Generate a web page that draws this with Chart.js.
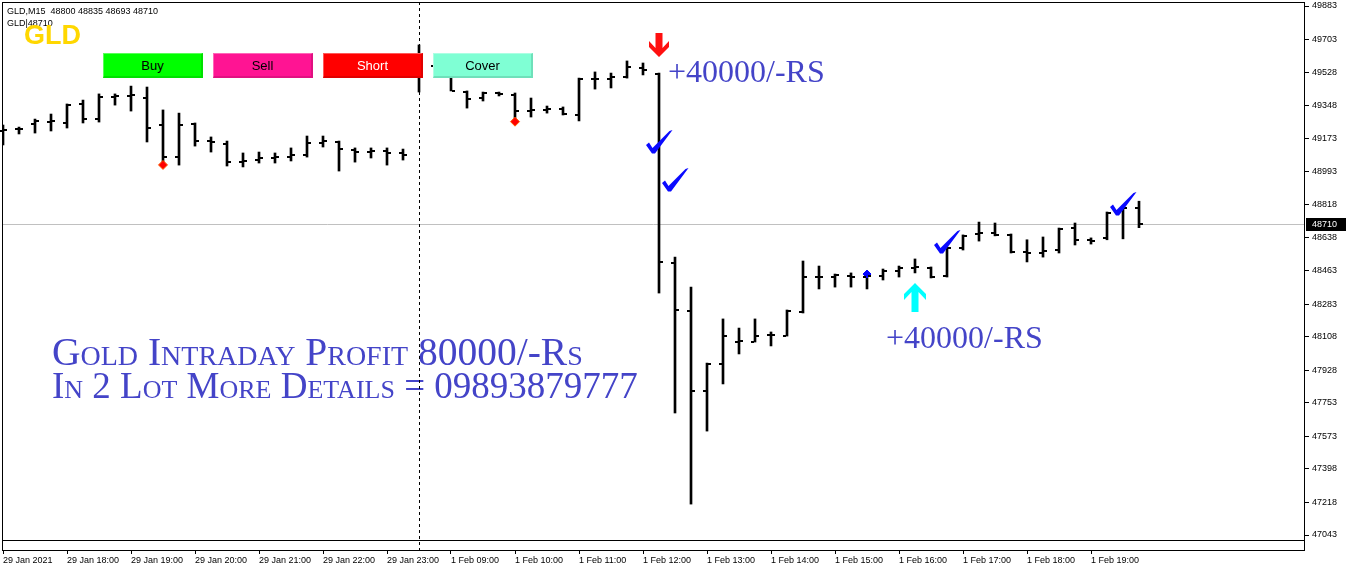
<!DOCTYPE html>
<html>
<head>
<meta charset="utf-8">
<script src="https://cdn.jsdelivr.net/npm/chart.js@4.4.1/dist/chart.umd.min.js"></script>
<style>
  html, body { margin: 0; padding: 0; background: #fff; }
  #wrap { position: relative; width: 1346px; height: 569px; overflow: hidden; }
  canvas { display: block; }
  .btn {
    position: absolute; top: 53px; width: 100px; height: 25px; box-sizing: border-box;
    font: 13px "Liberation Sans", Arial, sans-serif; text-align: center; line-height: 24px;
    border-top: 1px solid rgba(255,255,255,.35); border-left: 1px solid rgba(255,255,255,.35);
    border-right: 2px solid rgba(0,0,0,.12); border-bottom: 2px solid rgba(0,0,0,.12);
  }
</style>
</head>
<body>
<div id="wrap">
  <canvas id="chart" width="1346" height="569"></canvas>
  <div class="btn" style="left:103px;background:#00ff00;color:#000">Buy</div>
  <div class="btn" style="left:213px;background:#ff1493;color:#000">Sell</div>
  <div class="btn" style="left:323px;background:#ff0000;color:#fff">Short</div>
  <div class="btn" style="left:433px;background:#7fffd4;color:#000">Cover</div>
</div>
<script>
// GLD M15 bars, 29 Jan 17:00 -> 1 Feb 19:45
const opens  = [49210,49222,49249,49262,49255,49357,49276,49394,49398,49389,49244,49072,49249,49158,49142,49045,49056,49067,49072,49083,49147,49153,49110,49099,49104,49094,
                49582,49561,49518,49421,49389,49416,49405,49319,49325,49330,49298,49491,49491,49502,49550,49518,48503,48245,47816,47961,48079,48079,48117,48111,48240,48428,
                48428,48433,48428,48433,48460,48476,48476,48433,48584,48659,48664,48654,48562,48557,48573,48691,48628,48638,48793,48800];
const highs  = [49244,49233,49276,49303,49357,49378,49411,49411,49453,49448,49325,49308,49255,49180,49158,49094,49099,49094,49121,49185,49185,49158,49121,49121,49121,49115,
                49674,49593,49529,49427,49421,49421,49416,49389,49346,49341,49496,49529,49523,49588,49577,49523,48535,48374,47966,48203,48154,48203,48133,48251,48514,48487,
                48444,48450,48455,48471,48487,48525,48482,48589,48654,48723,48718,48659,48628,48643,48691,48718,48638,48777,48810,48835];
const lows   = [49137,49196,49201,49212,49228,49255,49260,49351,49319,49153,49035,49029,49131,49099,49024,49019,49040,49040,49051,49072,49126,48997,49045,49067,49029,49056,
                49421,49513,49427,49335,49373,49400,49271,49287,49308,49298,49266,49437,49443,49496,49513,48342,47698,47209,47601,47854,48015,48079,48058,48111,48235,48364,
                48374,48374,48364,48412,48428,48450,48423,48428,48573,48621,48649,48557,48509,48535,48557,48600,48605,48628,48633,48693];
const closes = [49217,49223,49266,49264,49351,49276,49394,49400,49403,49228,49072,49244,49158,49153,49045,49051,49067,49070,49083,49147,49158,49115,49099,49104,49094,49083,
                49555,49539,49427,49384,49416,49411,49319,49325,49330,49303,49491,49491,49502,49555,49539,48509,48251,47816,47961,48111,48082,48111,48117,48245,48428,48428,
                48439,48428,48433,48460,48476,48482,48428,48584,48649,48664,48654,48562,48557,48568,48686,48628,48621,48772,48798,48710];

const xTickIdx  = [0, 4, 8, 12, 16, 20, 24, 28, 32, 36, 40, 44, 48, 52, 56, 60, 64, 68];
const xTickText = ['29 Jan 2021','29 Jan 18:00','29 Jan 19:00','29 Jan 20:00','29 Jan 21:00','29 Jan 22:00','29 Jan 23:00',
                   '1 Feb 09:00','1 Feb 10:00','1 Feb 11:00','1 Feb 12:00','1 Feb 13:00','1 Feb 14:00','1 Feb 15:00',
                   '1 Feb 16:00','1 Feb 17:00','1 Feb 18:00','1 Feb 19:00'];
const yTickValues = [49883,49703,49528,49348,49173,48993,48818,48638,48463,48283,48108,47928,47753,47573,47398,47218,47043];
const daySeparatorIdx = 26;

// signal markers (bar index, price)
const redDotIdx   = [10, 32];
const redDotPrice = [49030, 49262];
const blueDotIdx   = [54];
const blueDotPrice = [48444];
const sellArrowIdx   = [41];
const sellArrowPrice = [49609];
const buyArrowIdx   = [57];
const buyArrowPrice = [48396];
const checkIdx   = [40.625, 41.625, 58.625, 69.625];
const checkPrice = [49094, 48890, 48557, 48761];
const profitIdx   = [41.56, 55.19];
const profitPrice = [49475, 48047];
const profitText  = '+40000/-RS';
const noteIdx   = 3.06;
const notePrice = [47956, 47778];
const noteLines = ['Gold Intraday Profit 80000/-Rs', 'In 2 Lot More Details = 09893879777'];
const noteSizes = [39.5, 37];

const FONT = '"Liberation Sans", Arial, sans-serif';
const NOTE_BLUE = '#4444c8';
const TICK = 3;

function arrow(ctx, cx, ty, dir, w, h, color) {
  // dir = 1 pointing down (body above tip), -1 pointing up
  const pts = [[0,0],[w/2,-w/2],[w/2,-w/2-6],[3.5,-9],[3.5,-h],[-3.5,-h],[-3.5,-9],[-w/2,-w/2-6],[-w/2,-w/2]];
  ctx.fillStyle = color;
  ctx.beginPath();
  pts.forEach(([dx, dy], k) => {
    const px = cx + dx, py = ty + dy * dir;
    k ? ctx.lineTo(px, py) : ctx.moveTo(px, py);
  });
  ctx.closePath();
  ctx.fill();
}

function check(ctx, vx, vy) {
  const pts = [[-7,-8],[-4,-10.5],[-0.5,-5],[16.5,-22],[19.5,-23],[2,0.5],[-1,0.5]];
  ctx.fillStyle = '#0a0aff';
  ctx.beginPath();
  pts.forEach(([dx, dy], k) => k ? ctx.lineTo(vx + dx, vy + dy) : ctx.moveTo(vx + dx, vy + dy));
  ctx.closePath();
  ctx.fill();
}

function noPadding(s) {
  s.paddingLeft = 0; s.paddingRight = 0; s.paddingTop = 0; s.paddingBottom = 0;
}

const mtOverlay = {
  id: 'mtOverlay',
  beforeDatasetsDraw(chart) {
    const { ctx, chartArea: a, scales: { y } } = chart;
    const py = Math.round(y.getPixelForValue(closes[closes.length - 1])) + 0.5;
    ctx.save();
    ctx.strokeStyle = '#c0c0c0';
    ctx.lineWidth = 1;
    ctx.beginPath(); ctx.moveTo(a.left, py); ctx.lineTo(a.right, py); ctx.stroke();
    ctx.restore();
  },
  afterDatasetsDraw(chart) {
    const { ctx, scales: { x, y } } = chart;
    ctx.save();
    // open / close ticks
    ctx.fillStyle = '#000';
    for (let i = 0; i < opens.length; i++) {
      const px = Math.round(x.getPixelForValue(i));
      const yo = Math.round(y.getPixelForValue(opens[i]));
      const yc = Math.round(y.getPixelForValue(closes[i]));
      ctx.fillRect(px - 1 - TICK, yo - 1, TICK, 2);
      ctx.fillRect(px + 1, yc - 1, TICK, 2);
    }
    sellArrowIdx.forEach((i, k) => arrow(ctx, x.getPixelForValue(i), y.getPixelForValue(sellArrowPrice[k]), 1, 20, 24, '#ff1010'));
    buyArrowIdx.forEach((i, k) => arrow(ctx, x.getPixelForValue(i), y.getPixelForValue(buyArrowPrice[k]), -1, 22, 29, '#00ffff'));
    checkIdx.forEach((i, k) => check(ctx, x.getPixelForValue(i), y.getPixelForValue(checkPrice[k])));

    ctx.fillStyle = NOTE_BLUE;
    ctx.textBaseline = 'alphabetic';
    ctx.font = '32px "Liberation Serif", "Times New Roman", serif';
    profitIdx.forEach((i, k) => ctx.fillText(profitText, x.getPixelForValue(i), y.getPixelForValue(profitPrice[k])));
    noteLines.forEach((t, k) => {
      ctx.font = 'small-caps ' + noteSizes[k] + 'px "Liberation Serif", "Times New Roman", serif';
      ctx.fillText(t, x.getPixelForValue(noteIdx), y.getPixelForValue(notePrice[k]));
    });
    ctx.restore();
  },
  afterDraw(chart) {
    const { ctx, chartArea: a, scales: { x, y } } = chart;
    ctx.save();
    // frame + empty sub-window strip
    ctx.strokeStyle = '#000';
    ctx.lineWidth = 1;
    ctx.strokeRect(a.left + 0.5, a.top + 0.5, a.right - a.left - 1, a.bottom - a.top);
    ctx.fillStyle = '#fff';
    ctx.fillRect(a.left, a.bottom + 1, a.right - a.left, 9);
    ctx.strokeRect(a.left + 0.5, a.bottom + 0.5, a.right - a.left - 1, 10);
    // day separator
    const sx = Math.round(x.getPixelForValue(daySeparatorIdx)) + 0.5;
    ctx.setLineDash([3, 3]);
    ctx.beginPath(); ctx.moveTo(sx, a.top); ctx.lineTo(sx, a.bottom + 10); ctx.stroke();
    ctx.setLineDash([]);
    // last price label
    const lp = closes[closes.length - 1];
    const py = Math.round(y.getPixelForValue(lp));
    ctx.fillStyle = '#000';
    ctx.fillRect(a.right + 1, py - 6, 41, 13);
    ctx.fillStyle = '#fff';
    ctx.font = '9px ' + FONT;
    ctx.textBaseline = 'middle';
    ctx.fillText(String(lp), a.right + 7, py + 1);
    // header
    ctx.fillStyle = '#000';
    ctx.textBaseline = 'alphabetic';
    const n = closes.length - 1;
    ctx.fillText('GLD,M15  ' + [opens[n], highs[n], lows[n], closes[n]].join(' '), 7, 14);
    ctx.fillText('GLD|' + closes[n], 7, 26);
    ctx.fillStyle = '#ffd700';
    ctx.font = 'bold 27px ' + FONT;
    ctx.fillText('GLD', 24, 44);
    ctx.restore();
  }
};

const ctx = document.getElementById('chart');
new Chart(ctx, {
  type: 'bar',
  data: {
    datasets: [
      {
        type: 'bar',
        data: opens.map((_, i) => ({ x: i, y: [lows[i], highs[i]] })),
        backgroundColor: '#000',
        borderWidth: 0,
        barThickness: 2,
        borderSkipped: false,
        order: 2
      },
      {
        type: 'scatter',
        data: redDotIdx.map((i, k) => ({ x: i, y: redDotPrice[k] })),
        pointStyle: 'rectRot',
        pointRadius: 4.5,
        backgroundColor: '#ff0000',
        borderColor: '#ff5a00',
        borderWidth: 1,
        order: 1
      },
      {
        type: 'scatter',
        data: blueDotIdx.map((i, k) => ({ x: i, y: blueDotPrice[k] })),
        pointStyle: 'rectRot',
        pointRadius: 4,
        backgroundColor: '#0000ff',
        borderColor: '#0000ff',
        borderWidth: 1,
        order: 1
      }
    ]
  },
  options: {
    responsive: false,
    animation: false,
    events: [],
    layout: { autoPadding: false, padding: { left: 2, top: 2, right: 0, bottom: 0 } },
    plugins: { legend: { display: false }, tooltip: { enabled: false } },
    scales: {
      x: {
        type: 'linear',
        position: 'bottom',
        min: -0.0625,
        max: 81.375,
        offset: false,
        afterFit: s => { s.height = 29; noPadding(s); },
        afterBuildTicks: s => { s.ticks = xTickIdx.map(v => ({ value: v })); },
        grid: { drawOnChartArea: false, offset: false, tickLength: 14, tickColor: '#000', tickWidth: 1 },
        border: { display: false },
        ticks: {
          align: 'start',
          autoSkip: false,
          maxRotation: 0,
          padding: 1,
          color: '#000',
          font: { family: FONT, size: 9 },
          callback: v => xTickText[xTickIdx.indexOf(v)]
        }
      },
      y: {
        type: 'linear',
        position: 'right',
        min: 47016.2,
        max: 49904.5,
        afterFit: s => { s.width = 41; noPadding(s); },
        afterBuildTicks: s => { s.ticks = yTickValues.map(v => ({ value: v })); },
        grid: { drawOnChartArea: false, tickLength: 4, tickColor: '#000', tickWidth: 1 },
        border: { display: false },
        ticks: {
          autoSkip: false,
          padding: 3,
          color: '#000',
          font: { family: FONT, size: 9 },
          callback: v => String(v)
        }
      }
    }
  },
  plugins: [mtOverlay]
});
</script>
</body>
</html>
